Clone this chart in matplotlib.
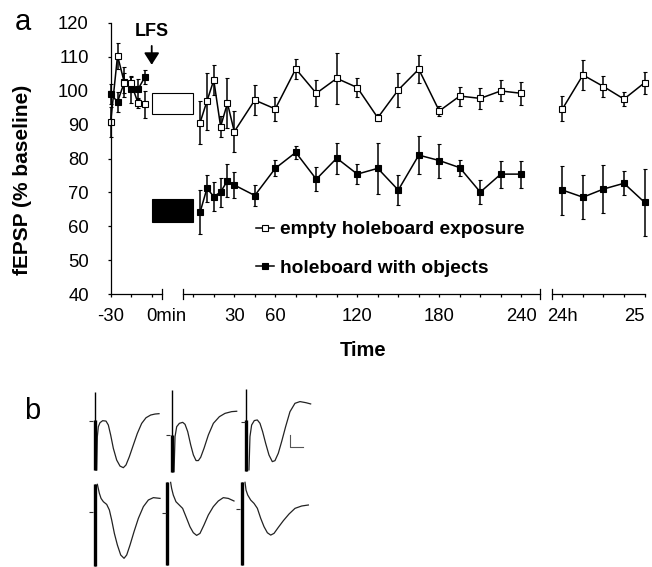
import matplotlib.pyplot as plt
from matplotlib.patches import Rectangle
from matplotlib.lines import Line2D

plt.rcParams['font.family'] = ['Liberation Sans', 'DejaVu Sans']

# ---- panel a: fEPSP (% baseline), time in minutes ----
pre_t = [-30, -25, -20, -15, -10, -5]
pre_empty = [90.8, 110.3, 102.3, 102.1, 96.3, 96.0]
pre_empty_err = [4.5, 3.8, 3.0, 2.0, 1.5, 4.0]
pre_obj = [99.0, 96.7, 102.5, 100.4, 100.4, 104.0]
pre_obj_err = [3.0, 3.0, 4.5, 4.0, 3.0, 2.0]

post_t = [5, 10, 15, 20, 25, 30, 45, 60, 75, 90, 105, 120, 135, 150, 165, 180, 195, 210, 225, 240]
post_empty = [90.6, 96.9, 103.1, 89.4, 96.3, 87.9, 97.2, 94.6, 106.4, 99.2,
              103.6, 100.9, 92.0, 100.2, 106.3, 94.0, 98.4, 97.7, 99.9, 99.2]
post_empty_err = [6.3, 8.4, 4.5, 3.2, 7.3, 6.0, 4.5, 3.5, 2.9, 3.8,
                  7.6, 2.7, 1.0, 5.0, 4.2, 1.6, 2.8, 3.2, 3.1, 3.3]
post_obj = [64.2, 71.2, 68.8, 70.1, 73.5, 72.2, 69.1, 77.1, 81.8, 73.9,
            80.1, 75.4, 77.1, 70.7, 81.0, 79.4, 77.3, 70.1, 75.4, 75.4]
post_obj_err = [6.4, 4.0, 4.3, 4.3, 4.9, 3.8, 3.0, 2.4, 2.0, 3.5,
                4.6, 3.0, 7.5, 4.4, 5.5, 5.0, 2.4, 3.6, 4.0, 4.0]

day_t = [1440, 1455, 1470, 1485, 1500]
day_empty = [94.6, 104.6, 101.2, 97.5, 102.3]
day_empty_err = [3.7, 4.3, 3.0, 2.0, 3.2]
day_obj = [70.7, 68.6, 71.0, 72.7, 67.1]
day_obj_err = [7.2, 6.5, 7.1, 3.5, 9.8]

# exposure period boxes (start, length in min; low/high in %)
exposure_start, exposure_len = 0, 30
empty_box = (93.1, 99.4)
obj_box = (61.2, 68.1)
lfs_time = 0

seg1_ticks = [-30, -15, 0]
seg1_labels = ['-30', '', '']
seg2_ticks = list(range(0, 241, 15))
seg2_labels = {30: '30', 60: '60', 120: '120', 180: '180', 240: '240'}
seg3_ticks = [1440, 1455, 1470, 1485, 1500]
seg3_labels = ['24h', '', '', '', '25']

# ---- panel b: traces (ms, mV) ----
tr_t = [
    [0.25, 0.35, 0.5, 0.75, 1.15, 1.65, 2.0, 2.35, 2.75, 3.25, 3.75, 4.25, 4.65, 5.15, 5.75, 6.35, 7.0, 7.65, 8.35, 9.0, 9.6],
    [0.35, 0.5, 0.75, 1.15, 1.65, 2.0, 2.4, 2.85, 3.25, 3.65, 4.0, 4.35, 4.85, 5.5, 6.25, 7.15, 8.0, 9.0, 9.75],
    [0.4, 0.55, 0.8, 1.2, 1.65, 2.05, 2.45, 2.9, 3.4, 3.9, 4.3, 4.8, 5.3, 5.9, 6.55, 7.3, 8.05, 8.95, 9.65],
    [0.4, 0.7, 0.95, 1.3, 1.8, 2.2, 2.55, 2.95, 3.4, 3.9, 4.4, 4.8, 5.3, 5.9, 6.55, 7.3, 8.05, 8.8, 9.8],
    [0.5, 0.65, 0.9, 1.3, 1.8, 2.3, 2.8, 3.4, 3.9, 4.4, 4.9, 5.5, 6.15, 6.9, 7.65, 8.4, 9.15, 10.0],
    [0.5, 0.65, 0.9, 1.35, 1.85, 2.35, 2.85, 3.35, 3.85, 4.35, 4.85, 5.5, 6.25, 7.1, 8.0, 9.0, 10.0],
]
tr_v = [
    [-4.0, -1.3, -0.49, -0.16, 0.0, -0.03, -0.35, -1.16, -2.24, -3.19, -3.68, -3.81, -3.59, -2.92, -1.97, -1.03, -0.22, 0.24, 0.46, 0.54, 0.57],
    [-2.95, -0.11, 0.7, 0.97, 1.05, 0.89, 0.3, -0.78, -1.59, -2.05, -2.05, -1.78, -1.05, 0.03, 0.97, 1.51, 1.78, 1.92, 1.95],
    [-3.86, -1.16, -0.22, 0.14, 0.19, -0.08, -0.76, -1.7, -2.65, -3.19, -3.11, -2.51, -1.57, -0.35, 0.86, 1.54, 1.68, 1.59, 1.49],
    [2.22, 1.49, 1.08, 0.81, 0.59, 0.14, -0.68, -1.76, -2.7, -3.51, -3.78, -3.51, -2.7, -1.62, -0.54, 0.41, 0.95, 1.14, 1.08],
    [2.46, 1.97, 1.43, 0.89, 0.62, 0.35, -0.32, -1.14, -1.62, -1.84, -1.68, -1.0, -0.19, 0.49, 0.95, 1.22, 1.16, 0.95],
    [2.14, 1.51, 1.11, 0.7, 0.43, 0.03, -0.78, -1.46, -1.95, -2.14, -2.0, -1.51, -0.97, -0.43, 0.03, 0.22, 0.3],
]
art_top = [2.35, 3.68, 2.70, 2.22, 2.46, 2.14]
art_thick = [0.05, 0.03, 0.19, 2.22, 2.46, 2.14]
art_bot = [-4.0, -2.95, -3.92, -4.41, -4.24, -4.57]
scale_ms, scale_mv = 2, 1

W, H = 652, 567
fig = plt.figure(figsize=(W / 100, H / 100), dpi=100)


def px_axes(l, r, t, b):
    return fig.add_axes([l / W, 1 - b / H, (r - l) / W, (b - t) / H])


ax1 = px_axes(110.7, 161.7, 22.7, 294.3)
ax2 = px_axes(183.3, 540.0, 22.7, 294.3)
ax3 = px_axes(551.5, 644.5, 22.7, 294.3)
ax1.set_xlim(-30, 7.3)
ax2.set_xlim(-7.3, 253.7)
ax3.set_xlim(1432, 1500)


def draw(ax, t, e, ee, o, oe):
    for vals, err, fc in [(o, oe, 'black'), (e, ee, 'white')]:
        c = ax.errorbar(t, vals, yerr=err, fmt='-s', color='black', mfc=fc, mec='black',
                        ms=5, mew=0.8, lw=1.1, elinewidth=1.1, capsize=1.6, capthick=1.1)
        for art in [c[0]] + list(c[1]) + list(c[2]):
            art.set_clip_on(False)


draw(ax1, pre_t, pre_empty, pre_empty_err, pre_obj, pre_obj_err)
draw(ax2, post_t, post_empty, post_empty_err, post_obj, post_obj_err)
draw(ax3, day_t, day_empty, day_empty_err, day_obj, day_obj_err)

for ax in (ax1, ax2, ax3):
    ax.set_ylim(40, 120)
    ax.set_facecolor('none')
    for s in ('top', 'right'):
        ax.spines[s].set_visible(False)
    ax.spines['bottom'].set_linewidth(0.9)
    ax.spines['left'].set_linewidth(0.9)
    ax.tick_params(direction='out', length=2.3, width=0.9, labelsize=13.3, pad=7.5, colors='black')
for ax in (ax2, ax3):
    ax.spines['left'].set_visible(False)
    ax.set_yticks([])

ax1.set_yticks(range(40, 121, 10))
ax1.tick_params(axis='y', pad=13.5)
ax1.set_xticks(seg1_ticks)
ax1.set_xticklabels(seg1_labels)
ax2.set_xticks(seg2_ticks)
ax2.set_xticklabels([seg2_labels.get(t, '') for t in seg2_ticks])
ax3.set_xticks(seg3_ticks)
ax3.set_xticklabels(seg3_labels)
ax3.get_xticklabels()[-1].set_horizontalalignment('right')
ax1.annotate('0min', xy=(0, 0), xycoords=('data', 'axes fraction'), xytext=(-5.5, -13.5),
             textcoords='offset pixels', ha='left', va='top', fontsize=13.3)

# break marks at segment ends
for ax, xs in [(ax1, [1]), (ax2, [0, 1]), (ax3, [0])]:
    for x in xs:
        ax.plot([x, x], [-0.018, 0.018], transform=ax.transAxes, color='black', lw=0.9, clip_on=False)

# exposure boxes
ax1.add_patch(Rectangle((exposure_start, empty_box[0]), exposure_len, empty_box[1] - empty_box[0],
                        fc='white', ec='black', lw=0.8, clip_on=False, zorder=3))
ax1.add_patch(Rectangle((exposure_start, obj_box[0]), exposure_len, obj_box[1] - obj_box[0],
                        fc='black', ec='black', lw=0.8, clip_on=False, zorder=3))

ax1.annotate('LFS', xy=(lfs_time, 107.6), xytext=(lfs_time, 117.3), ha='center', va='center',
             fontsize=13, fontweight='bold', annotation_clip=False,
             arrowprops=dict(arrowstyle='-|>,head_width=0.35,head_length=0.55', color='black', lw=1.3,
                             shrinkA=2, shrinkB=0))

handles = [Line2D([], [], color='black', marker='s', mfc='white', mec='black', ms=5, mew=0.8, lw=1.1),
           Line2D([], [], color='black', marker='s', mfc='black', mec='black', ms=5, mew=0.8, lw=1.1)]
fig.legend(handles, ['empty holeboard exposure', 'holeboard with objects'],
           loc='upper left', bbox_to_anchor=(256 / W, 1 - 221 / H), frameon=False,
           prop={'size': 13.75, 'weight': 'bold'}, handlelength=0.95, handletextpad=0.3,
           labelspacing=1.12, borderpad=0, borderaxespad=0)

fig.text(23 / W, 1 - 179.5 / H, 'fEPSP (% baseline)', rotation=90, ha='center', va='center',
         fontsize=15, fontweight='bold')
fig.text(363 / W, 1 - 350 / H, 'Time', ha='center', va='center', fontsize=14.5, fontweight='bold')
fig.text(15 / W, 1 - 30 / H, 'a', fontsize=21, va='baseline', ha='left')
fig.text(24 / W, 1 - 419 / H, 'b', fontsize=21, va='baseline', ha='left')

# ---- panel b ----
px_ms, px_mv = 6.667, 12.33
anchors = [(95, 420.7), (171.7, 435.3), (246.3, 422.3), (94.7, 511.7), (167.3, 512.7), (241.7, 508.7)]
for i, (x0, y0) in enumerate(anchors):
    tax = px_axes(x0 - 1.5 * px_ms, x0 + 10.5 * px_ms, y0 - 4 * px_mv, y0 + 5 * px_mv)
    tax.set_xlim(-1.5, 10.5)
    tax.set_ylim(-5, 4)
    tax.axis('off')
    tax.plot(tr_t[i], tr_v[i], color='#222222', lw=0.9)
    tax.plot([0, 0], [art_top[i], art_bot[i]], color='black', lw=1.0, solid_capstyle='butt')
    tax.plot([0, 0], [art_thick[i], art_bot[i]], color='black', lw=2.4, solid_capstyle='butt')
    tax.hlines(0, -0.85, -0.25, color='#333333', lw=0.8)
    if i == 2:
        sx, sy = 6.55, -2.03
        tax.plot([sx, sx, sx + scale_ms], [sy + scale_mv, sy, sy], color='#555555', lw=0.8)

fig.savefig('out.png', dpi=100)
